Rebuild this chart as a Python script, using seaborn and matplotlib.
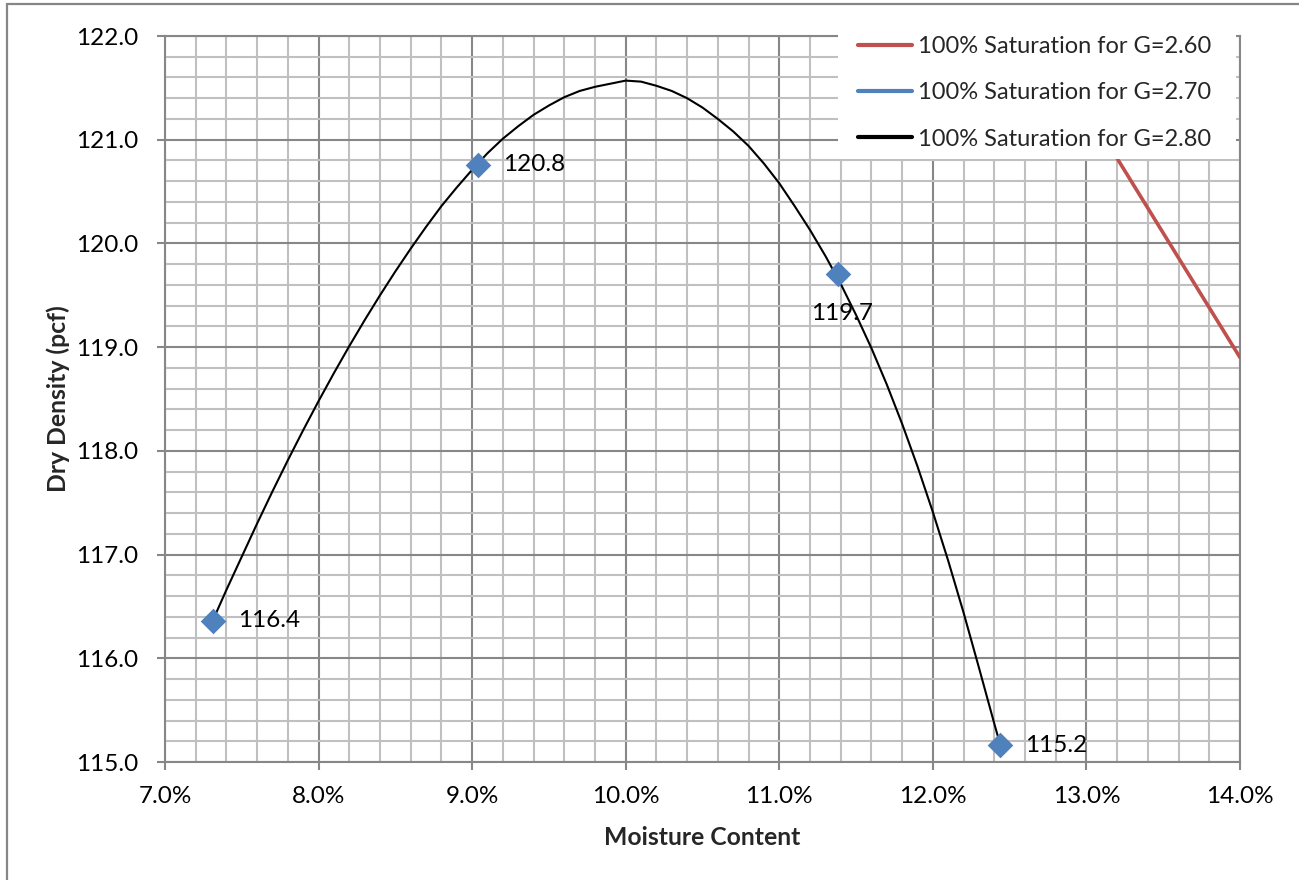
import matplotlib
matplotlib.use("Agg")
import matplotlib.pyplot as plt
from matplotlib.ticker import MultipleLocator, FuncFormatter
from matplotlib.patches import Rectangle
from matplotlib.lines import Line2D
import seaborn as sns

# Proctor test results: moisture content (%) and dry density (pcf)
test_moisture = [7.31, 9.04, 11.38, 12.44]
test_density = [116.36, 120.76, 119.71, 115.16]
label_side = ["right", "right", "below", "right"]

# Compaction curve through the test points
curve_moisture = [7.31, 7.40, 7.50, 7.60, 7.70, 7.80, 7.90, 8.00, 8.10, 8.20,
                  8.30, 8.40, 8.50, 8.60, 8.70, 8.80, 8.90, 9.00, 9.10, 9.20,
                  9.30, 9.40, 9.50, 9.60, 9.70, 9.80, 9.90, 10.00, 10.10, 10.20,
                  10.30, 10.40, 10.50, 10.60, 10.70, 10.80, 10.90, 11.00, 11.10,
                  11.20, 11.30, 11.40, 11.50, 11.60, 11.70, 11.80, 11.90, 12.00,
                  12.10, 12.20, 12.30, 12.40, 12.44]
curve_density = [116.36, 116.66, 116.98, 117.30, 117.61, 117.91, 118.20, 118.48,
                 118.75, 119.01, 119.26, 119.50, 119.73, 119.95, 120.16, 120.36,
                 120.54, 120.71, 120.87, 121.01, 121.13, 121.24, 121.33, 121.41,
                 121.47, 121.51, 121.54, 121.57, 121.56, 121.52, 121.47, 121.40,
                 121.31, 121.20, 121.08, 120.94, 120.77, 120.58, 120.36, 120.13,
                 119.88, 119.61, 119.31, 118.99, 118.64, 118.26, 117.85, 117.41,
                 116.94, 116.44, 115.91, 115.37, 115.16]

# Zero-air-voids line for G = 2.60
zav_moisture = [13.0, 13.5, 14.0]
zav_density = [121.3, 120.1, 118.9]

legend_labels = ["100% Saturation for G=2.60",
                 "100% Saturation for G=2.70",
                 "100% Saturation for G=2.80"]
legend_colors = ["#C0504D", "#4F81BD", "#000000"]

sns.set_style("white")
plt.rcParams["font.family"] = ["Lato", "DejaVu Sans"]

W, H = 1299, 880
fig = plt.figure(figsize=(W / 100, H / 100), dpi=100)
ax = fig.add_axes([165 / W, 1 - 762 / H, (1240 - 165) / W, (762 - 36) / H])

# chart frame
fig.add_artist(Rectangle((7 / W, -0.05), 1.2, 1.05 - 4 / H,
                         transform=fig.transFigure, fill=False,
                         edgecolor="#868686", linewidth=1.6, zorder=0))

grid_major = "#878787"
grid_minor = "#C0C0C0"
fs_tick = 17.5

ax.set_xlim(7.0, 14.0)
ax.set_ylim(115.0, 122.0)
ax.xaxis.set_major_locator(MultipleLocator(1.0))
ax.xaxis.set_minor_locator(MultipleLocator(0.2))
ax.yaxis.set_major_locator(MultipleLocator(1.0))
ax.yaxis.set_minor_locator(MultipleLocator(0.2))
ax.xaxis.set_major_formatter(FuncFormatter(lambda v, p: f"{v:.1f}%"))
ax.yaxis.set_major_formatter(FuncFormatter(lambda v, p: f"{v:.1f}"))
ax.set_axisbelow(True)
ax.grid(which="minor", color=grid_minor, linewidth=1.5)
ax.grid(which="major", color=grid_major, linewidth=1.5)
for s in ax.spines.values():
    s.set_color(grid_major)
    s.set_linewidth(1.5)

ax.tick_params(axis="both", which="major", direction="out", length=6,
               width=1.5, color=grid_major, labelsize=fs_tick, labelcolor="black",
               left=True, bottom=True)
ax.tick_params(axis="y", which="major", pad=13)
ax.tick_params(axis="x", which="major", pad=11)
ax.tick_params(which="minor", length=0)

# zero-air-voids line
sns.lineplot(x=zav_moisture, y=zav_density, ax=ax, color=legend_colors[0],
             linewidth=2.6, sort=False, legend=False, zorder=3)

# compaction curve
sns.lineplot(x=curve_moisture, y=curve_density, ax=ax, color="black",
             linewidth=1.5, sort=False, legend=False, zorder=4)

# test points
sns.scatterplot(x=test_moisture, y=test_density, ax=ax, marker="D", s=170,
                color="#4F81BD", edgecolor="#4F81BD", linewidth=0, zorder=5,
                legend=False)

for mx, my, side in zip(test_moisture, test_density, label_side):
    if side == "right":
        off, ha = (18, 0), "left"
    else:
        off, ha = (3, -29), "center"
    ax.annotate(f"{my:.1f}", (mx, my), xytext=off, textcoords="offset points",
                ha=ha, va="center", fontsize=fs_tick, color="black", zorder=6)

ax.set_xlabel("Moisture Content", fontsize=17.8, fontweight="bold")
ax.set_ylabel("Dry Density (pcf)", fontsize=17.8, fontweight="bold")
ax.xaxis.set_label_coords(0.5, -(837 - 762) / 726)
ax.yaxis.set_label_coords(-(165 - 58) / 1075, 0.5)
ax.xaxis.label.set_va("center")
ax.yaxis.label.set_va("center")

# white panel behind the legend
ax.add_artist(Rectangle((838 / W, 1 - 159 / H), (1236 - 838) / W, (159 - 18) / H,
                        transform=fig.transFigure, facecolor="white",
                        edgecolor="none", zorder=9, clip_on=False))

handles = [Line2D([], [], color=c, linewidth=3) for c in legend_colors]
leg = ax.legend(handles, legend_labels, loc="upper left",
                bbox_to_anchor=(858 / W, 1 - 36 / H),
                bbox_transform=fig.transFigure, fontsize=17,
                frameon=False, handlelength=2.3, handletextpad=0.25,
                labelspacing=1.07, borderpad=0, borderaxespad=0)
leg.set_zorder(10)

fig.savefig("out.png", dpi=100)
